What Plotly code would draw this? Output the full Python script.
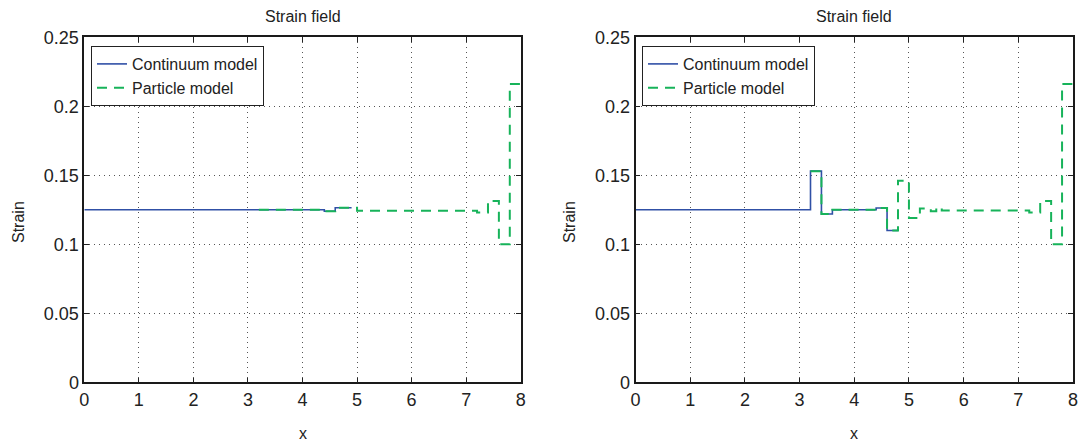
import plotly.graph_objects as go

# ---------------- data (step functions: edges + value per interval) ----------------
left_cont_edges = [0.0, 4.4, 4.6, 4.9]
left_cont_vals = [0.125, 0.124, 0.1265]

left_part_edges = [3.2, 4.4, 4.6, 5.0, 7.2, 7.4, 7.6, 7.8, 8.0]
left_part_vals = [0.125, 0.124, 0.1265, 0.1243, 0.123, 0.1314, 0.100, 0.2162]

right_cont_edges = [0.0, 3.2, 3.4, 3.6, 4.4, 4.6, 4.8]
right_cont_vals = [0.125, 0.153, 0.122, 0.125, 0.1263, 0.110]

right_part_edges = [3.2, 3.4, 3.6, 4.4, 4.6, 4.8, 5.0, 5.2, 5.4, 5.5, 5.6, 7.2, 7.4, 7.6, 7.8, 8.0]
right_part_vals = [0.153, 0.122, 0.125, 0.1263, 0.110, 0.146, 0.119, 0.126, 0.124, 0.1265,
                   0.1245, 0.123, 0.1314, 0.100, 0.2162]

x_ticks = [0, 1, 2, 3, 4, 5, 6, 7, 8]
y_ticks = [0, 0.05, 0.1, 0.15, 0.2, 0.25]
y_tick_text = ["0", "0.05", "0.1", "0.15", "0.2", "0.25"]

title_text = "Strain field"
x_label = "x"
y_label = "Strain"
series_names = ["Continuum model", "Particle model"]

BLUE = "#3050a6"
GREEN = "#17b35a"
FONT = "Liberation Sans, Arial, sans-serif"


def step_xy(edges, vals):
    return list(edges), list(vals) + [vals[-1]]


fig = go.Figure()

panels = [
    ("x", "y", "legend", left_cont_edges, left_cont_vals, left_part_edges, left_part_vals),
    ("x2", "y2", "legend2", right_cont_edges, right_cont_vals, right_part_edges, right_part_vals),
]
for xa, ya, lg, ce, cv, pe, pv in panels:
    cx, cy = step_xy(ce, cv)
    px, py = step_xy(pe, pv)
    fig.add_trace(go.Scatter(x=cx, y=cy, mode="lines", line_shape="hv", name=series_names[0],
                             line=dict(color=BLUE, width=1.6), xaxis=xa, yaxis=ya, legend=lg))
    fig.add_trace(go.Scatter(x=px, y=py, mode="lines", line_shape="hv", name=series_names[1],
                             line=dict(color=GREEN, width=2, dash="10px,7px"),
                             xaxis=xa, yaxis=ya, legend=lg))

W, H = 1081, 443
left_dom = [84.3 / W, 520.7 / W]
right_dom = [635.5 / W, 1073.0 / W]
y_dom = [1 - 382.3 / H, 1 - 37.3 / H]

axis_common = dict(
    automargin=False,
    showline=True, linecolor="#1a1a1a", linewidth=1.6, mirror="ticks",
    ticks="inside", ticklen=5, tickcolor="#222", tickwidth=1,
    showgrid=True, gridcolor="#555", gridwidth=1, griddash="1px,4px",
    zeroline=False, tickfont=dict(family=FONT, size=18, color="#222"),
)

legend_common = dict(
    xanchor="left", yanchor="top",
    bgcolor="white", bordercolor="#222", borderwidth=1,
    font=dict(family=FONT, size=16, color="#222"),
    tracegroupgap=0, itemwidth=30,
)

fig.update_layout(
    template="none",
    width=W, height=H,
    margin=dict(l=0, r=0, t=0, b=0, pad=0, autoexpand=False),
    paper_bgcolor="white", plot_bgcolor="white",
    showlegend=True,
    xaxis=dict(domain=left_dom, range=[0, 8], tickvals=x_ticks, anchor="y", **axis_common),
    yaxis=dict(domain=y_dom, range=[0, 0.25], tickvals=y_ticks, ticktext=y_tick_text, anchor="x", **axis_common),
    xaxis2=dict(domain=right_dom, range=[0, 8], tickvals=x_ticks, anchor="y2", **axis_common),
    yaxis2=dict(domain=y_dom, range=[0, 0.25], tickvals=y_ticks, ticktext=y_tick_text, anchor="x2", **axis_common),
    legend=dict(x=91 / W, y=1 - 46 / H, **legend_common),
    legend2=dict(x=642 / W, y=1 - 46 / H, **legend_common),
)

ann_font = dict(family=FONT, size=16, color="#222")
for cx_px in [(84.3 + 520.7) / 2, (635.5 + 1073.0) / 2]:
    fig.add_annotation(x=cx_px / W, y=1 - 17 / H, xref="paper", yref="paper", text=title_text,
                       showarrow=False, font=ann_font, xanchor="center", yanchor="middle")
    fig.add_annotation(x=cx_px / W, y=1 - 433 / H, xref="paper", yref="paper", text=x_label,
                       showarrow=False, font=ann_font, xanchor="center", yanchor="middle")
for lx in [18, 569]:
    fig.add_annotation(x=lx / W, y=1 - 222 / H, xref="paper", yref="paper", text=y_label,
                       showarrow=False, font=ann_font, textangle=-90, xanchor="center", yanchor="middle")

fig.write_html("out.html")
